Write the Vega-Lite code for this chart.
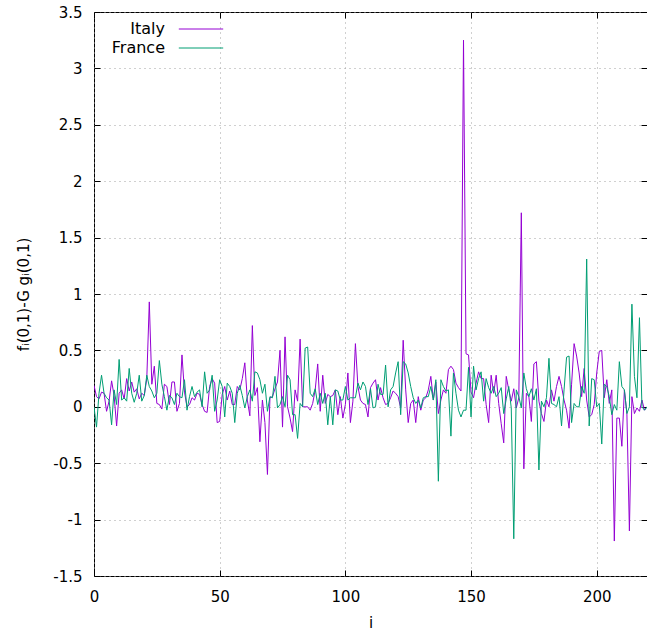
{
"$schema":"https://vega.github.io/schema/vega-lite/v6.json",
"width":553,"height":564,
"autosize":{"type":"none"},
"padding":{"left":94,"top":12,"right":0,"bottom":54},
"config":{
 "view":{"stroke":"black","strokeWidth":1},
 "font":"DejaVu Sans",
 "axis":{"labelFont":"DejaVu Sans","labelFontSize":15,"labelColor":"black","titleFont":"DejaVu Sans","titleFontSize":15,"titleFontWeight":"normal","titleColor":"black","tickColor":"black","tickSize":-6,"tickWidth":1,"domain":false,"gridColor":"#a0a0a0","gridDash":[1,4],"gridWidth":1,"gridOpacity":1,"labelFlush":false,"labelOverlap":false}
},
"data":{"values":[
{"i":0,"Italy":0.19,"France":0.00},{"i":1,"Italy":0.09,"France":-0.18},{"i":2,"Italy":0.07,"France":0.12},{"i":3,"Italy":0.13,"France":0.28},{"i":4,"Italy":0.12,"France":0.12},
{"i":5,"Italy":-0.04,"France":0.08},{"i":6,"Italy":0.05,"France":0.06},{"i":7,"Italy":0.23,"France":-0.16},{"i":8,"Italy":0.10,"France":0.15},{"i":9,"Italy":-0.17,"France":0.02},
{"i":10,"Italy":0.12,"France":0.42},{"i":11,"Italy":0.15,"France":0.06},{"i":12,"Italy":0.07,"France":0.08},{"i":13,"Italy":0.25,"France":0.05},{"i":14,"Italy":0.14,"France":0.34},
{"i":15,"Italy":0.22,"France":0.12},{"i":16,"Italy":0.13,"France":0.04},{"i":17,"Italy":0.16,"France":0.12},{"i":18,"Italy":0.07,"France":0.28},{"i":19,"Italy":0.12,"France":0.05},
{"i":20,"Italy":0.10,"France":0.10},{"i":21,"Italy":0.25,"France":0.28},{"i":22,"Italy":0.93,"France":0.18},{"i":23,"Italy":0.20,"France":0.14},{"i":24,"Italy":0.36,"France":0.08},
{"i":25,"Italy":0.03,"France":0.12},{"i":26,"Italy":0.02,"France":0.41},{"i":27,"Italy":-0.02,"France":0.20},{"i":28,"Italy":0.20,"France":0.09},{"i":29,"Italy":0.18,"France":-0.03},
{"i":30,"Italy":0.02,"France":0.10},{"i":31,"Italy":0.22,"France":0.08},{"i":32,"Italy":0.22,"France":0.02},{"i":33,"Italy":-0.04,"France":0.12},{"i":34,"Italy":0.03,"France":0.09},
{"i":35,"Italy":0.46,"France":0.08},{"i":36,"Italy":0.13,"France":0.24},{"i":37,"Italy":0.00,"France":-0.03},{"i":38,"Italy":0.02,"France":0.09},{"i":39,"Italy":0.08,"France":0.18},
{"i":40,"Italy":0.06,"France":0.09},{"i":41,"Italy":0.12,"France":0.13},{"i":42,"Italy":0.11,"France":0.15},{"i":43,"Italy":0.02,"France":0.00},{"i":44,"Italy":-0.04,"France":0.31},
{"i":45,"Italy":-0.05,"France":0.12},{"i":46,"Italy":0.18,"France":0.15},{"i":47,"Italy":0.25,"France":0.28},{"i":48,"Italy":0.21,"France":-0.04},{"i":49,"Italy":-0.14,"France":0.06},
{"i":50,"Italy":-0.13,"France":0.24},{"i":51,"Italy":0.11,"France":0.18},{"i":52,"Italy":0.18,"France":-0.09},{"i":53,"Italy":0.06,"France":0.21},{"i":54,"Italy":0.14,"France":0.18},
{"i":55,"Italy":0.02,"France":0.12},{"i":56,"Italy":0.02,"France":-0.14},{"i":57,"Italy":0.18,"France":0.12},{"i":58,"Italy":0.15,"France":0.19},{"i":59,"Italy":0.25,"France":0.10},
{"i":60,"Italy":0.39,"France":-0.01},{"i":61,"Italy":0.06,"France":0.09},{"i":62,"Italy":-0.08,"France":0.15},{"i":63,"Italy":0.72,"France":0.05},{"i":64,"Italy":0.10,"France":0.31},
{"i":65,"Italy":0.17,"France":0.30},{"i":66,"Italy":-0.31,"France":0.24},{"i":67,"Italy":0.06,"France":0.12},{"i":68,"Italy":-0.14,"France":0.20},{"i":69,"Italy":-0.60,"France":-0.04},
{"i":70,"Italy":0.08,"France":0.09},{"i":71,"Italy":0.09,"France":0.08},{"i":72,"Italy":0.16,"France":0.27},{"i":73,"Italy":0.22,"France":-0.01},{"i":74,"Italy":0.50,"France":0.02},
{"i":75,"Italy":-0.18,"France":0.09},{"i":76,"Italy":0.62,"France":0.00},{"i":77,"Italy":0.00,"France":0.28},{"i":78,"Italy":-0.10,"France":0.24},{"i":79,"Italy":-0.22,"France":-0.07},
{"i":80,"Italy":0.15,"France":-0.07},{"i":81,"Italy":0.05,"France":-0.28},{"i":82,"Italy":0.60,"France":0.03},{"i":83,"Italy":0.00,"France":0.00},{"i":84,"Italy":0.00,"France":0.52},
{"i":85,"Italy":0.00,"France":0.53},{"i":86,"Italy":-0.03,"France":0.12},{"i":87,"Italy":0.03,"France":0.09},{"i":88,"Italy":0.15,"France":0.16},{"i":89,"Italy":0.38,"France":0.02},
{"i":90,"Italy":-0.04,"France":0.12},{"i":91,"Italy":0.28,"France":0.03},{"i":92,"Italy":0.03,"France":0.12},{"i":93,"Italy":0.11,"France":-0.16},{"i":94,"Italy":0.09,"France":0.09},
{"i":95,"Italy":0.10,"France":-0.16},{"i":96,"Italy":0.15,"France":0.15},{"i":97,"Italy":-0.07,"France":0.14},{"i":98,"Italy":0.09,"France":0.06},{"i":99,"Italy":-0.10,"France":0.06},
{"i":100,"Italy":0.02,"France":0.18},{"i":101,"Italy":0.30,"France":0.06},{"i":102,"Italy":-0.14,"France":0.08},{"i":103,"Italy":0.05,"France":0.08},{"i":104,"Italy":0.56,"France":0.08},
{"i":105,"Italy":0.18,"France":0.21},{"i":106,"Italy":0.06,"France":0.15},{"i":107,"Italy":0.03,"France":0.22},{"i":108,"Italy":0.02,"France":0.18},{"i":109,"Italy":-0.09,"France":0.02},
{"i":110,"Italy":0.17,"France":0.16},{"i":111,"Italy":0.21,"France":-0.01},{"i":112,"Italy":0.24,"France":0.00},{"i":113,"Italy":0.06,"France":0.20},{"i":114,"Italy":0.17,"France":0.11},
{"i":115,"Italy":0.08,"France":0.11},{"i":116,"Italy":0.02,"France":0.37},{"i":117,"Italy":0.03,"France":0.00},{"i":118,"Italy":0.08,"France":0.15},{"i":119,"Italy":0.14,"France":0.18},
{"i":120,"Italy":0.12,"France":0.30},{"i":121,"Italy":0.09,"France":0.40},{"i":122,"Italy":-0.01,"France":-0.07},{"i":123,"Italy":0.59,"France":0.40},{"i":124,"Italy":0.15,"France":0.38},
{"i":125,"Italy":-0.14,"France":0.30},{"i":126,"Italy":0.03,"France":0.18},{"i":127,"Italy":0.06,"France":0.08},{"i":128,"Italy":-0.14,"France":0.03},{"i":129,"Italy":0.09,"France":0.06},
{"i":130,"Italy":-0.03,"France":-0.01},{"i":131,"Italy":0.06,"France":0.08},{"i":132,"Italy":0.08,"France":0.09},{"i":133,"Italy":0.15,"France":0.09},{"i":134,"Italy":0.27,"France":0.18},
{"i":135,"Italy":0.06,"France":0.06},{"i":136,"Italy":0.22,"France":0.24},{"i":137,"Italy":-0.06,"France":-0.66},{"i":138,"Italy":0.06,"France":0.24},{"i":139,"Italy":0.15,"France":0.18},
{"i":140,"Italy":0.12,"France":0.14},{"i":141,"Italy":0.33,"France":0.15},{"i":142,"Italy":0.36,"France":-0.26},{"i":143,"Italy":0.33,"France":0.30},{"i":144,"Italy":0.21,"France":0.12},
{"i":145,"Italy":0.17,"France":-0.03},{"i":146,"Italy":0.14,"France":-0.09},{"i":147,"Italy":3.25,"France":-0.03},{"i":148,"Italy":0.47,"France":-0.03},{"i":149,"Italy":0.46,"France":0.35},
{"i":150,"Italy":0.13,"France":-0.09},{"i":151,"Italy":0.08,"France":0.36},{"i":152,"Italy":0.21,"France":0.15},{"i":153,"Italy":0.31,"France":0.25},{"i":154,"Italy":0.25,"France":0.31},
{"i":155,"Italy":0.25,"France":0.05},{"i":156,"Italy":0.02,"France":0.25},{"i":157,"Italy":-0.14,"France":0.17},{"i":158,"Italy":0.28,"France":0.12},{"i":159,"Italy":0.12,"France":0.18},
{"i":160,"Italy":0.28,"France":0.09},{"i":161,"Italy":0.03,"France":0.12},{"i":162,"Italy":-0.15,"France":0.17},{"i":163,"Italy":-0.32,"France":-0.06},{"i":164,"Italy":0.27,"France":0.07},
{"i":165,"Italy":0.15,"France":0.18},{"i":166,"Italy":0.05,"France":-0.01},{"i":167,"Italy":0.16,"France":-1.17},{"i":168,"Italy":-0.01,"France":0.15},{"i":169,"Italy":0.08,"France":0.09},
{"i":170,"Italy":1.72,"France":-0.01},{"i":171,"Italy":-0.55,"France":0.30},{"i":172,"Italy":0.12,"France":0.16},{"i":173,"Italy":0.09,"France":0.09},{"i":174,"Italy":-0.13,"France":0.16},
{"i":175,"Italy":0.38,"France":0.06},{"i":176,"Italy":0.40,"France":0.16},{"i":177,"Italy":0.05,"France":-0.56},{"i":178,"Italy":-0.06,"France":0.05},{"i":179,"Italy":-0.13,"France":0.00},
{"i":180,"Italy":0.06,"France":0.08},{"i":181,"Italy":0.00,"France":0.43},{"i":182,"Italy":0.15,"France":0.03},{"i":183,"Italy":0.05,"France":0.02},{"i":184,"Italy":0.18,"France":0.00},
{"i":185,"Italy":0.27,"France":0.09},{"i":186,"Italy":0.18,"France":-0.17},{"i":187,"Italy":0.06,"France":0.15},{"i":188,"Italy":-0.03,"France":0.44},{"i":189,"Italy":-0.19,"France":0.45},
{"i":190,"Italy":0.20,"France":-0.14},{"i":191,"Italy":0.56,"France":0.03},{"i":192,"Italy":0.45,"France":0.00},{"i":193,"Italy":0.30,"France":0.00},{"i":194,"Italy":0.09,"France":0.18},
{"i":195,"Italy":0.34,"France":0.12},{"i":196,"Italy":0.06,"France":1.31},{"i":197,"Italy":-0.09,"France":-0.17},{"i":198,"Italy":-0.07,"France":0.25},{"i":199,"Italy":0.02,"France":0.24},
{"i":200,"Italy":0.30,"France":0.00},{"i":201,"Italy":0.49,"France":0.03},{"i":202,"Italy":0.50,"France":-0.33},{"i":203,"Italy":0.08,"France":0.20},{"i":204,"Italy":0.24,"France":0.18},
{"i":205,"Italy":0.03,"France":0.09},{"i":206,"Italy":0.15,"France":-0.07},{"i":207,"Italy":-1.19,"France":0.02},{"i":208,"Italy":-0.10,"France":-0.03},{"i":209,"Italy":-0.10,"France":0.40},
{"i":210,"Italy":-0.35,"France":0.18},{"i":211,"Italy":0.15,"France":0.15},{"i":212,"Italy":-0.06,"France":-0.06},{"i":213,"Italy":-1.10,"France":0.00},{"i":214,"Italy":0.09,"France":0.91},
{"i":215,"Italy":-0.06,"France":0.27},{"i":216,"Italy":-0.01,"France":0.08},{"i":217,"Italy":-0.04,"France":0.79},{"i":218,"Italy":0.06,"France":0.00},{"i":219,"Italy":-0.03,"France":-0.03},
{"i":220,"Italy":0.00,"France":0.00}
]},
"transform":[{"fold":["Italy","France"],"as":["country","v"]}],
"layer":[
 {"mark":{"type":"line","strokeWidth":1,"clip":true},
  "encoding":{
   "x":{"field":"i","type":"quantitative","scale":{"domain":[0,220],"nice":false,"zero":false},
        "axis":{"orient":"bottom","title":"i","values":[0,50,100,150,200],"grid":true,"labelPadding":19,"titlePadding":11}},
   "y":{"field":"v","type":"quantitative","scale":{"domain":[-1.5,3.5],"nice":false,"zero":false},
        "axis":{"orient":"left","title":"fᵢ(0,1)-G gᵢ(0,1)","values":[-1.5,-1,-0.5,0,0.5,1,1.5,2,2.5,3,3.5],"labelExpr":"toString(datum.value)","grid":true,"labelPadding":18,"titlePadding":21}},
   "color":{"field":"country","type":"nominal","scale":{"domain":["Italy","France"],"range":["#9400d3","#009e73"]},
        "legend":{"orient":"none","legendX":99,"legendY":9,"title":null,"symbolType":"M-7.4,0L7.4,0","symbolSize":36,"symbolStrokeWidth":1,"symbolFillColor":"transparent","labelAlign":"right","labelOffset":-44,"labelFontSize":16,"labelFont":"DejaVu Sans","labelColor":"black","rowPadding":3}}
  }},
 {"mark":{"type":"line","opacity":0,"strokeOpacity":0},
  "encoding":{
   "x":{"field":"i","type":"quantitative","scale":{"domain":[0,220],"nice":false,"zero":false},
        "axis":{"orient":"top","title":null,"labels":false,"values":[0,50,100,150,200],"grid":false}},
   "y":{"field":"v","type":"quantitative","scale":{"domain":[-1.5,3.5],"nice":false,"zero":false},
        "axis":{"orient":"right","title":null,"labels":false,"values":[-1.5,-1,-0.5,0,0.5,1,1.5,2,2.5,3,3.5],"grid":false}}
  }}
],
"resolve":{"axis":{"x":"independent","y":"independent"}}
}
